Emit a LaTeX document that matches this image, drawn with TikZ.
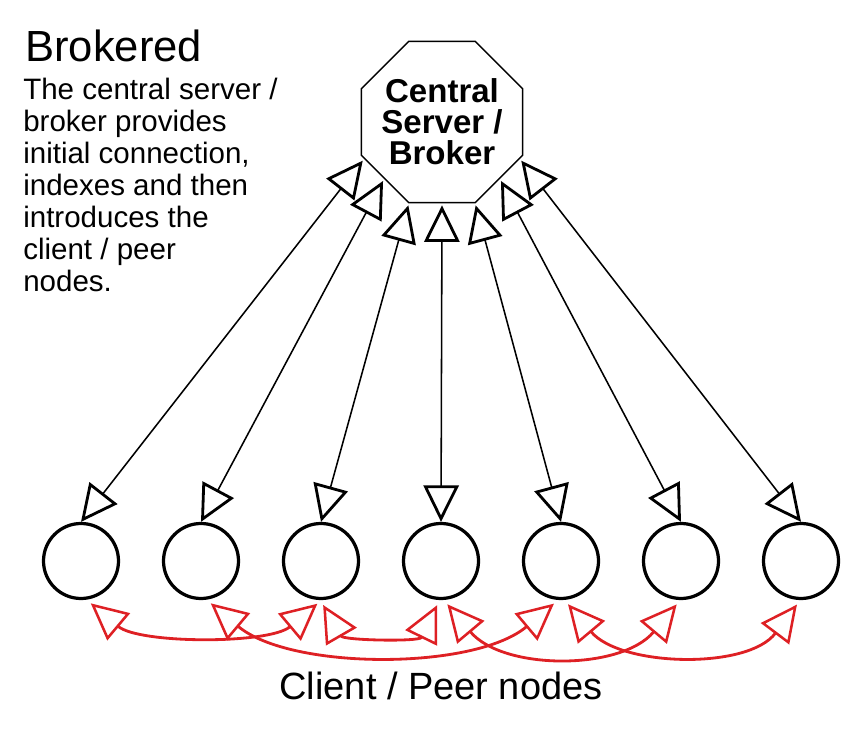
\documentclass[tikz,border=0pt]{standalone}
\usepackage{fontspec}
\setmainfont{Liberation Sans}
\usepackage{xcolor}
\usetikzlibrary{arrows.meta,shapes.geometric}

\definecolor{linkred}{RGB}{222,32,36}

\begin{document}
\begin{tikzpicture}[
    peer/.style={circle, draw, line width=2.3pt, minimum size=1.875cm, inner sep=0pt},
    broker/.style={regular polygon, regular polygon sides=8, draw, line width=1pt,
        minimum size=4.36cm, inner sep=0pt, outer sep=2pt},
    brokertext/.style={align=center, inner sep=0pt, font=\bfseries\fontsize{23.5}{22}\selectfont},
    link/.style={line width=1.1pt,
        {Triangle[open,length=26pt,width=25pt,line width=2pt]}-{Triangle[open,length=26pt,width=25pt,line width=2pt]}},
    peerlink/.style={linkred, line width=2pt, shorten <=4pt, shorten >=4pt,
        {Triangle[open,length=26pt,width=25pt,line width=1.8pt]}-{Triangle[open,length=26pt,width=25pt,line width=1.8pt]}}
]
    \useasboundingbox (0,0) rectangle (21.6,18.6);

    % Heading and explanation
    \node[anchor=base west, inner sep=0pt, font=\fontsize{31}{36}\selectfont] (title) at (0.625,17.05) {Brokered};
    \node[anchor=base west, inner sep=0pt, align=left, font=\fontsize{21}{22.8}\selectfont] (desc) at (0.575,11.3)
        {The central server /\\broker provides\\initial connection,\\indexes and then\\introduces the\\client / peer\\nodes.};

    % Central server
    \node[broker] (server) at (11.05,15.55) {};
    \node[brokertext] (servertext) at (server.center) {Central\\Server /\\Broker};

    % Client / peer nodes
    \node[peer] (c1) at (2.025,4.575) {};
    \node[peer] (c2) at (5.025,4.575) {};
    \node[peer] (c3) at (8.025,4.575) {};
    \node[peer] (c4) at (11.025,4.575) {};
    \node[peer] (c5) at (14.025,4.575) {};
    \node[peer] (c6) at (17.025,4.575) {};
    \node[peer] (c7) at (20.025,4.575) {};

    % Server to peers
    \draw[link] (server.206) -- (c1.north);
    \draw[link] (server.225) -- (c2.north);
    \draw[link] (server.248) -- (c3.north);
    \draw[link] (server.270) -- (c4.north);
    \draw[link] (server.292) -- (c5.north);
    \draw[link] (server.315) -- (c6.north);
    \draw[link] (server.334) -- (c7.north);

    % Peer to peer
    \draw[peerlink] (c1.278) to[out=-40, in=-140, looseness=0.75] (c3.271);
    \draw[peerlink] (c2.278) to[out=-40, in=-140, looseness=0.8] (c5.266);
    \draw[peerlink] (c3.269) to[out=-60, in=-116] (c4.268);
    \draw[peerlink] (c4.274) to[out=-50, in=-130] (c6.269);
    \draw[peerlink] (c5.275) to[out=-50, in=-127, looseness=0.95] (c7.269);

    \node[anchor=base, inner sep=0pt, font=\fontsize{27}{30}\selectfont] (caption) at (11.025,1.1) {Client / Peer nodes};
\end{tikzpicture}
\end{document}
